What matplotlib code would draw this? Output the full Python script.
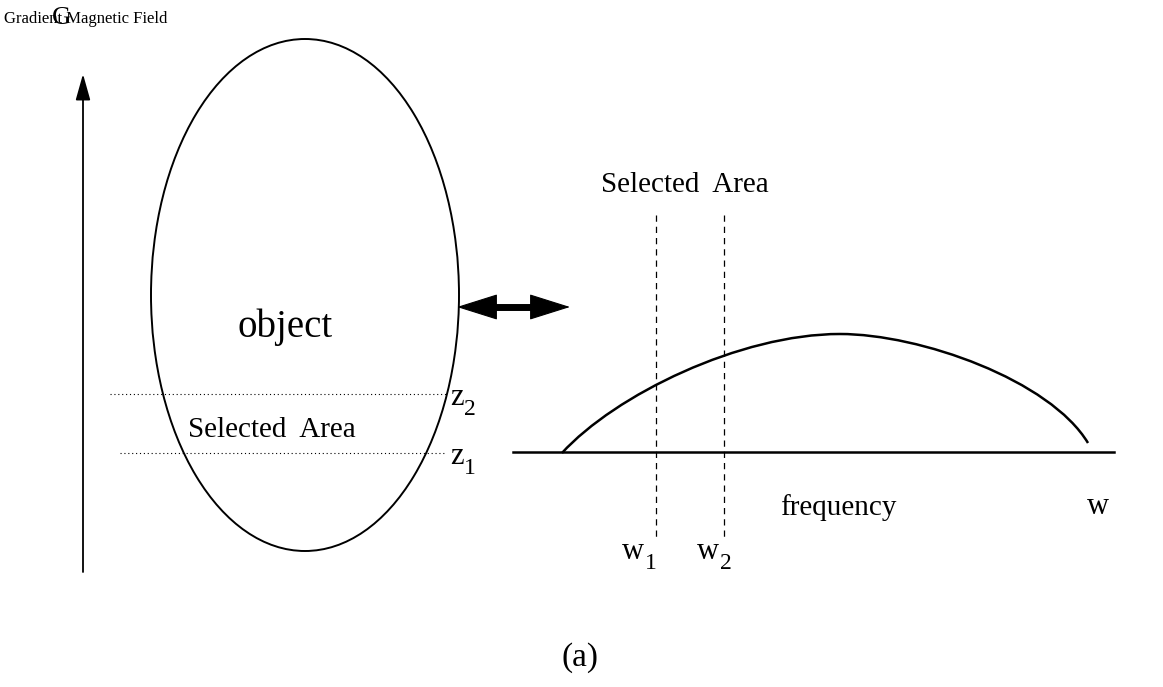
import matplotlib
matplotlib.use("Agg")
import matplotlib.pyplot as plt
from matplotlib.patches import Ellipse, FancyArrowPatch, PathPatch
from matplotlib.path import Path

plt.rcParams['font.family'] = ['Liberation Serif', 'DejaVu Serif']

# CONFIG (pixel coordinates, y pointing down)
ellipse_center = (305, 295)
ellipse_size = (308, 512)
z_levels = [453, 394]                 # z1, z2
z_subs = ["1", "2"]
w_positions = [656, 724]              # w1, w2
w_subs = ["1", "2"]
# spectrum curve: start, peak, end with bezier handles
curve_x = [562, 615, 740, 840, 920, 1050, 1088]
curve_y = [453, 395, 334, 334, 334, 380, 443]

fig = plt.figure(figsize=(11.63, 6.87), dpi=100)
ax = fig.add_axes([0, 0, 1, 1])
ax.set_xlim(0, 1163)
ax.set_ylim(687, 0)
ax.axis("off")


def sub_label(x, y, base, sub, dx):
    # letter with a large subscript, like the scanned figure
    ax.text(x, y, base, fontsize=22, ha="left", va="baseline")
    ax.text(x + dx, y + 10, sub, fontsize=17, ha="left", va="baseline")


# gradient axis
ax.annotate("", xy=(83, 74), xytext=(83, 572),
            arrowprops=dict(arrowstyle="-|>,head_length=1.6,head_width=0.45",
                            color="black", lw=1.3, shrinkA=0, shrinkB=0))
ax.text(4, 23, "Gradient Magnetic Field", fontsize=12, va="baseline", ha="left")
ax.text(52, 24, "G", fontsize=19, va="baseline", ha="left")

# object
ax.add_patch(Ellipse(ellipse_center, ellipse_size[0], ellipse_size[1],
                     fill=False, lw=1.4, color="black"))
ax.text(285, 327, "object", fontsize=28, ha="center", va="center")

for zl, sub, x0 in zip(z_levels, z_subs, [120, 110]):
    ax.plot([x0, 446], [zl, zl], ls=(0, (1, 2.5)), lw=0.8, color="black")
    sub_label(450, zl + 11, "z", sub, 14)
ax.text(272, 430, "Selected  Area", fontsize=21, ha="center", va="center")

# double arrow
ax.add_patch(FancyArrowPatch((457, 307), (570, 307),
                             arrowstyle="<|-|>,head_length=27,head_width=8.5",
                             color="black", lw=0.8, mutation_scale=1,
                             shrinkA=0, shrinkB=0))
ax.plot([490, 537], [307, 307], color="black", lw=5, solid_capstyle="butt")

# spectrum
ax.plot([513, 1114], [452, 452], color="black", lw=1.8)
codes = [Path.MOVETO] + [Path.CURVE4] * 6
curve = Path(list(zip(curve_x, curve_y)), codes)
ax.add_patch(PathPatch(curve, fill=False, lw=1.8, edgecolor="black"))
for wx in w_positions:
    ax.plot([wx, wx], [215, 540], ls=(0, (5, 4)), lw=0.9, color="black")
for wx, sub in zip([622, 697], w_subs):
    sub_label(wx, 559, "w", sub, 23)
ax.text(685, 185, "Selected  Area", fontsize=21, ha="center", va="center")
ax.text(838, 508, "frequency", fontsize=21, ha="center", va="center")
ax.text(1098, 506, "w", fontsize=22, ha="center", va="center")

ax.text(580, 658, "(a)", fontsize=24, ha="center", va="center")

fig.savefig("out.png", dpi=100)
